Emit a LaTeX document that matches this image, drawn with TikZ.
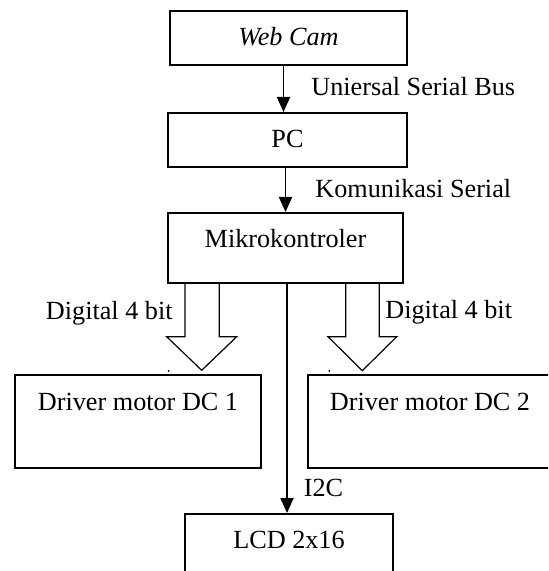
\documentclass[tikz,border=0pt]{standalone}
\usepackage{fontspec}
\setmainfont{Liberation Serif}
\usepackage{tikz}
\usetikzlibrary{arrows.meta,positioning}

\tikzset{
  blok/.style={draw, line width=0.9pt, inner sep=0pt, anchor=north},
  lbl/.style={inner sep=0pt},
  panah/.style={line width=0.9pt, -{Triangle[length=7.5pt,width=6.5pt]}},
  lebar/.style={line width=0.6pt},
}

\begin{document}
\begin{tikzpicture}[x=0.5pt,y=-0.5pt,font=\fontsize{13.1pt}{15.7pt}\selectfont]
      \useasboundingbox (0,0) rectangle (548,571);
      \clip (0,0) rectangle (548,571);
      % blok utama
      \node[blok, minimum width=118.5pt, text height=17.5pt, text depth=9.5pt] (cam) at (288.5,10) {\textit{Web Cam}};
      \node[blok, minimum width=119.5pt, text height=17.5pt, text depth=9.5pt] (pc) at (287.5,112) {PC};
      \node[blok, minimum width=117.5pt, text height=17.5pt, text depth=17.5pt] (mcu) at (285.5,212) {Mikrokontroler};
      % driver motor
      \node[blok, minimum width=123pt, text height=18pt, text depth=28.5pt] (drv1) at (138,374) {Driver motor DC 1};
      \node[blok, minimum width=122pt, text height=18pt, text depth=28.5pt] (drv2) at (430,374) {Driver motor DC 2};
      % lcd
      \node[blok, minimum width=104pt, text height=17.5pt, text depth=30pt] (lcd) at (289,513) {LCD 2x16};

      % panah
      \draw[panah] ([xshift=-2pt]pc.north |- cam.south) -- ([xshift=-2pt]pc.north)
           node[lbl, pos=0.44, right=13.5pt] (usb) {Uniersal Serial Bus};
      \draw[panah] (mcu.north |- pc.south) -- (mcu.north)
           node[lbl, pos=0.48, right=14.5pt] (kom) {Komunikasi Serial};
      \draw[panah] ([xshift=0.75pt]mcu.south) -- ([xshift=0.75pt]mcu.south |- lcd.north)
           node[lbl, pos=0.89, right=8pt] (i2c) {I2C};

      % panah lebar kiri
      \draw[lebar] (185,282) -- (185,336.7) -- (166.7,336.7) -- (201.7,370.3)
           -- (236.7,336.7) -- (219.3,336.7) -- (219.3,282);
      \node[lbl, anchor=east] (dig1) at (173,313) {Digital 4 bit};
      % panah lebar kanan
      \draw[lebar] (345.7,282) -- (345.7,336.7) -- (328,336.7) -- (362.3,370.7)
           -- (396.7,336.7) -- (379.3,336.7) -- (379.3,282);
      \node[lbl, anchor=west] (dig2) at (385,312) {Digital 4 bit};
      % titik kecil
      \fill (168.5,371) circle (0.5pt);
      \fill (329.3,371) circle (0.5pt);
  \end{tikzpicture}
\end{document}
